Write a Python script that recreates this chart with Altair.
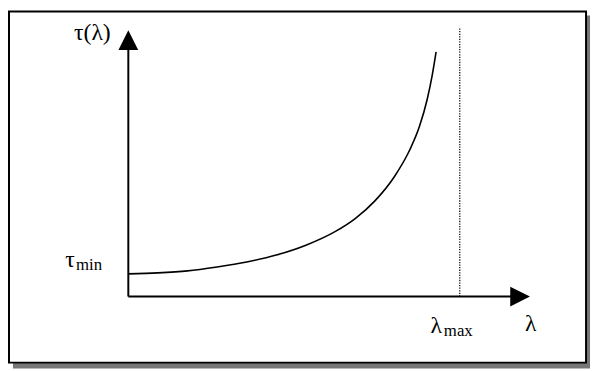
import altair as alt
import pandas as pd

# Curve tau(lambda) (lambda_max = 1, tau_min = 1)
lam_curve = [0.0, 0.0893, 0.1786, 0.2679, 0.3571, 0.4464, 0.5357, 0.625, 0.6845,
             0.744, 0.8036, 0.8482, 0.878, 0.9018, 0.9167, 0.9286]
tau_curve = [1.0, 1.043, 1.13, 1.304, 1.522, 1.826, 2.261, 2.870, 3.435,
             4.217, 5.304, 6.435, 7.478, 8.696, 9.739, 10.783]

# Axes, arrows, marker line
lam_axis_end = 1.182
tau_axis_end = 11.30
lam_max = 1.0
tau_dotted_top = 11.83

# Frame and shadow
frame_lam = [-0.360, 1.381]
frame_tau = [-2.913, 12.565]
shadow_lam = [-0.348, 1.393]
shadow_tau = [-3.174, 12.391]

# Labels
label_text = ["τ(λ)", "τ", "min", "λ", "max", "λ"]
label_lam = [-0.053, -0.190, -0.158, 0.912, 0.952, 1.214]
label_tau = [11.30, 1.30, 1.15, -1.61, -1.76, -1.52]
label_size = [24, 24, 17, 24, 17, 24]
label_align = ["right", "left", "left", "left", "left", "center"]

X_DOMAIN = [-0.363, 1.405]
Y_DOMAIN = [-3.174, 12.609]
xs = alt.Scale(domain=X_DOMAIN, nice=False, zero=False)
ys = alt.Scale(domain=Y_DOMAIN, nice=False, zero=False)
FONT = "'Liberation Serif', 'Times New Roman', 'DejaVu Serif', serif"

def X(field="x"):
    return alt.X(f"{field}:Q", scale=xs, axis=None)

def Y(field="y"):
    return alt.Y(f"{field}:Q", scale=ys, axis=None)

shadow = alt.Chart(pd.DataFrame({"x": [shadow_lam[0]], "x2": [shadow_lam[1]],
                                 "y": [shadow_tau[0]], "y2": [shadow_tau[1]]})).mark_rect(
    fill="#777777").encode(x=X(), x2="x2:Q", y=Y(), y2="y2:Q")

frame = alt.Chart(pd.DataFrame({"x": [frame_lam[0]], "x2": [frame_lam[1]],
                                "y": [frame_tau[0]], "y2": [frame_tau[1]]})).mark_rect(
    fill="white", stroke="black", strokeWidth=2).encode(x=X(), x2="x2:Q", y=Y(), y2="y2:Q")

curve = alt.Chart(pd.DataFrame({"x": lam_curve, "y": tau_curve})).mark_line(
    color="black", strokeWidth=1.6, interpolate="monotone").encode(x=X(), y=Y())

axes_df = pd.DataFrame({"x": [0.0, 0.0], "x2": [lam_axis_end, 0.0],
                        "y": [0.0, 0.0], "y2": [0.0, tau_axis_end]})
axes = alt.Chart(axes_df).mark_rule(color="black", strokeWidth=2).encode(
    x=X(), x2="x2:Q", y=Y(), y2="y2:Q")

arrow_up = alt.Chart(pd.DataFrame({"x": [0.0], "y": [tau_axis_end]})).mark_point(
    shape="M0,-1L1,1L-1,1Z", size=400, filled=True, color="black", opacity=1).encode(x=X(), y=Y())
arrow_right = alt.Chart(pd.DataFrame({"x": [lam_axis_end], "y": [0.0]})).mark_point(
    shape="M-1,-1L1,0L-1,1Z", size=400, filled=True, color="black", opacity=1).encode(x=X(), y=Y())

dotted = alt.Chart(pd.DataFrame({"x": [lam_max], "y": [0.0], "y2": [tau_dotted_top]})).mark_rule(
    color="#111111", strokeWidth=1.3, strokeDash=[1.3, 1.3]).encode(x=X(), y=Y(), y2="y2:Q")

labels_df = pd.DataFrame({"t": label_text, "x": label_lam, "y": label_tau})
text_layers = []
for i in range(len(label_text)):
    text_layers.append(
        alt.Chart(labels_df.iloc[[i]]).mark_text(
            font=FONT, fontSize=label_size[i], align=label_align[i],
            baseline="alphabetic", color="black").encode(x=X(), y=Y(), text="t:N"))

chart = alt.layer(shadow, frame, curve, axes, dotted, arrow_up, arrow_right, *text_layers).properties(
    width=594, height=363, autosize=alt.AutoSizeParams(type="none"), padding=0,
    background="white").configure_view(stroke=None)

chart.save("out.html", embed_options={"renderer": "svg", "actions": False})
